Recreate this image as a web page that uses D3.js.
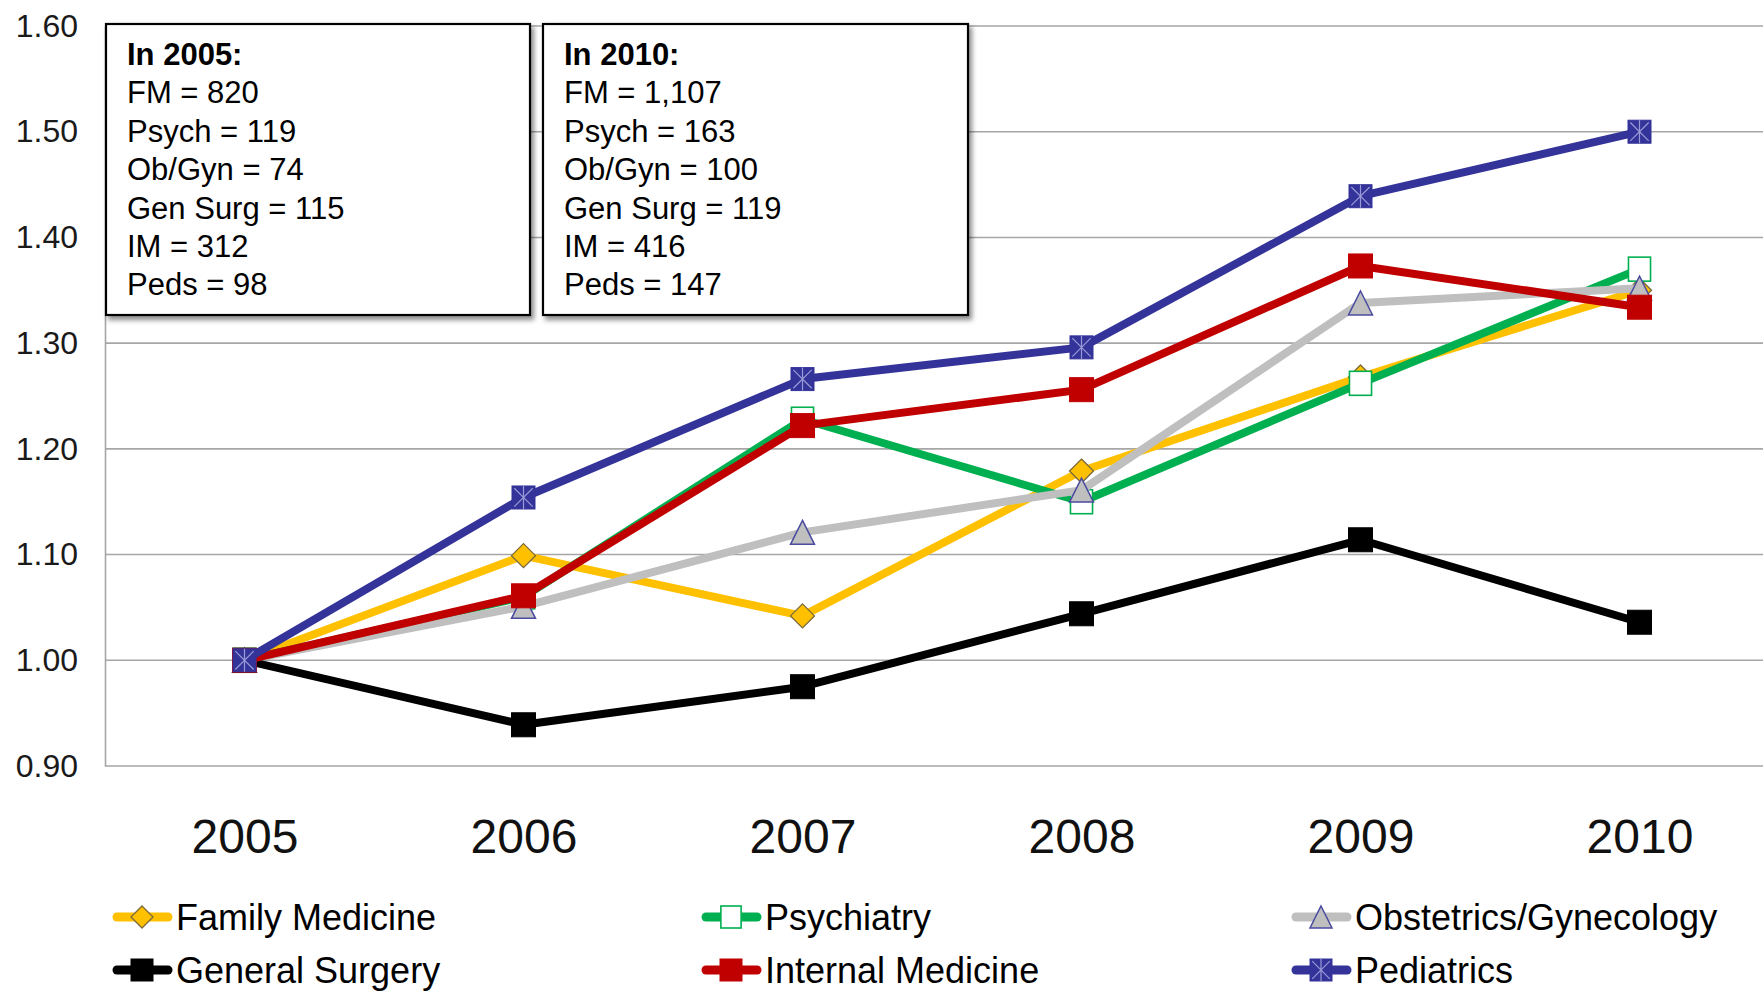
<!DOCTYPE html>
<html>
<head>
<meta charset="utf-8">
<script src="https://cdn.jsdelivr.net/npm/d3@7"></script>
<style>
  html, body { margin: 0; padding: 0; background: #fff; overflow: hidden; }
  svg { display: block; font-family: "Liberation Sans", Arial, sans-serif; }
</style>
</head>
<body>
<svg id="chart" width="1763" height="991"></svg>
<script>
// ---- Data ----
const years = ["2005", "2006", "2007", "2008", "2009", "2010"];
const yTicks = [0.90, 1.00, 1.10, 1.20, 1.30, 1.40, 1.50, 1.60];

const familyMedicine   = [1.000, 1.099, 1.042, 1.179, 1.268, 1.350];
const psychiatry       = [1.000, 1.060, 1.228, 1.150, 1.262, 1.370];
const obGyn            = [1.000, 1.051, 1.121, 1.161, 1.338, 1.352];
const generalSurgery   = [1.000, 0.939, 0.975, 1.044, 1.114, 1.036];
const internalMedicine = [1.000, 1.061, 1.222, 1.256, 1.373, 1.334];
const pediatrics       = [1.000, 1.154, 1.266, 1.296, 1.439, 1.500];

const seriesNames = ["Family Medicine", "Psychiatry", "Obstetrics/Gynecology",
                     "General Surgery", "Internal Medicine", "Pediatrics"];

const box2005Title = "In 2005:";
const box2005Lines = ["FM = 820", "Psych = 119", "Ob/Gyn = 74", "Gen Surg = 115", "IM = 312", "Peds = 98"];
const box2010Title = "In 2010:";
const box2010Lines = ["FM = 1,107", "Psych = 163", "Ob/Gyn = 100", "Gen Surg = 119", "IM = 416", "Peds = 147"];

// ---- Styling (kept separate from data) ----
const styles = [
  { color: "#FFC000", marker: "diamond" },
  { color: "#00B050", marker: "openSquare" },
  { color: "#BFBFBF", marker: "triangle" },
  { color: "#000000", marker: "square" },
  { color: "#C00000", marker: "square" },
  { color: "#333399", marker: "starSquare" }
];
const seriesValues = [familyMedicine, psychiatry, obGyn, generalSurgery, internalMedicine, pediatrics];

const svg = d3.select("#chart");
const W = 1763, H = 991;
const plot = { left: 105, right: 1779, top: 26, bottom: 766 };

const x = d3.scalePoint().domain(years).range([plot.left, plot.right]).padding(0.5);
const y = d3.scaleLinear().domain([0.9, 1.6]).range([plot.bottom, plot.top]);

// defs: drop shadow
const defs = svg.append("defs");
const f = defs.append("filter").attr("id", "shadow")
  .attr("x", "-5%").attr("y", "-5%").attr("width", "115%").attr("height", "115%");
f.append("feDropShadow").attr("dx", 3).attr("dy", 4).attr("stdDeviation", 2.5)
  .attr("flood-color", "#000").attr("flood-opacity", 0.45);

// gridlines
svg.append("g").selectAll("line").data(yTicks).join("line")
  .attr("x1", plot.left).attr("x2", W)
  .attr("y1", d => y(d)).attr("y2", d => y(d))
  .attr("stroke", "#A6A6A6").attr("stroke-width", 1.6);

// y axis
const yAxis = svg.append("g").attr("transform", `translate(${plot.left},0)`)
  .call(d3.axisLeft(y).tickValues(yTicks).tickFormat(d3.format(".2f")).tickSize(0).tickPadding(27));
yAxis.select(".domain").attr("stroke", "#A6A6A6").attr("stroke-width", 1.6);
yAxis.selectAll("text").attr("font-size", 32).attr("fill", "#1a1a1a")
  .attr("font-family", "'Liberation Sans', Arial, sans-serif");

// x axis labels
const xAxis = svg.append("g").attr("transform", `translate(0,${plot.bottom})`)
  .call(d3.axisBottom(x).tickSize(0).tickPadding(0));
xAxis.select(".domain").remove();
xAxis.selectAll("text").attr("font-size", 48).attr("fill", "#111")
  .attr("dy", null).attr("y", 87)
  .attr("font-family", "'Liberation Sans', Arial, sans-serif");

// marker drawing
function drawMarker(g, type, color, cx, cy, s) {
  const h = s / 2;
  if (type === "diamond") {
    g.append("path").attr("d", `M${cx},${cy - h} L${cx + h},${cy} L${cx},${cy + h} L${cx - h},${cy} Z`)
      .attr("fill", color).attr("stroke", "#7a6a3a").attr("stroke-width", 1.3);
  } else if (type === "openSquare") {
    g.append("rect").attr("x", cx - h * 0.92).attr("y", cy - h).attr("width", s * 0.92).attr("height", s)
      .attr("fill", "#fff").attr("stroke", color).attr("stroke-width", 1.6);
  } else if (type === "triangle") {
    g.append("path").attr("d", `M${cx},${cy - h} L${cx + h},${cy + h} L${cx - h},${cy + h} Z`)
      .attr("fill", color).attr("stroke", "#4b4ba0").attr("stroke-width", 1.5);
  } else if (type === "square") {
    g.append("rect").attr("x", cx - h).attr("y", cy - h).attr("width", s).attr("height", s)
      .attr("fill", color).attr("stroke", color).attr("stroke-width", 1);
  } else if (type === "starSquare") {
    g.append("rect").attr("x", cx - h).attr("y", cy - h).attr("width", s).attr("height", s)
      .attr("fill", color).attr("stroke", color).attr("stroke-width", 1);
    const k = h * 0.8;
    g.append("path")
      .attr("d", `M${cx - k},${cy - k} L${cx + k},${cy + k} M${cx + k},${cy - k} L${cx - k},${cy + k} M${cx},${cy - h} L${cx},${cy + h}`)
      .attr("stroke", "#9a9ad8").attr("stroke-width", 1.2).attr("fill", "none");
  }
}

// series
const line = d3.line().x((d, i) => x(years[i])).y(d => y(d));
seriesValues.forEach((vals, si) => {
  const st = styles[si];
  const g = svg.append("g");
  g.append("path").datum(vals).attr("d", line)
    .attr("fill", "none").attr("stroke", st.color).attr("stroke-width", 8)
    .attr("stroke-linejoin", "round").attr("stroke-linecap", "round");
  vals.forEach((v, i) => {
    const size = st.marker === "starSquare" ? 23 : 24;
    drawMarker(g, st.marker, st.color, x(years[i]), y(v), size);
  });
});

// text boxes
function textBox(bx, by, bw, bh, title, lines) {
  const g = svg.append("g");
  g.append("rect").attr("x", bx).attr("y", by).attr("width", bw).attr("height", bh)
    .attr("fill", "#fff").attr("stroke", "#000").attr("stroke-width", 2.2)
    .attr("filter", "url(#shadow)");
  const tx = bx + 21;
  g.append("text").attr("x", tx).attr("y", by + 41).attr("font-size", 31)
    .attr("font-weight", "bold").attr("fill", "#000").text(title);
  lines.forEach((t, i) => {
    g.append("text").attr("x", tx).attr("y", by + 41 + 38.4 * (i + 1))
      .attr("font-size", 31).attr("fill", "#000").text(t);
  });
}
textBox(106, 24, 424, 291, box2005Title, box2005Lines);
textBox(543, 24, 425, 291, box2010Title, box2010Lines);

// legend
const legCols = [113, 702, 1292];
const legRows = [917, 970];
seriesNames.forEach((name, i) => {
  const st = styles[i];
  const lx = legCols[i % 3], ly = legRows[Math.floor(i / 3)];
  const g = svg.append("g");
  g.append("line").attr("x1", lx + 4).attr("x2", lx + 55).attr("y1", ly).attr("y2", ly)
    .attr("stroke", st.color).attr("stroke-width", 9).attr("stroke-linecap", "round");
  drawMarker(g, st.marker, st.color, lx + 29, ly, 22);
  g.append("text").attr("x", lx + 63).attr("y", ly + 13).attr("font-size", 36)
    .attr("fill", "#000").text(name);
});
</script>
</body>
</html>
